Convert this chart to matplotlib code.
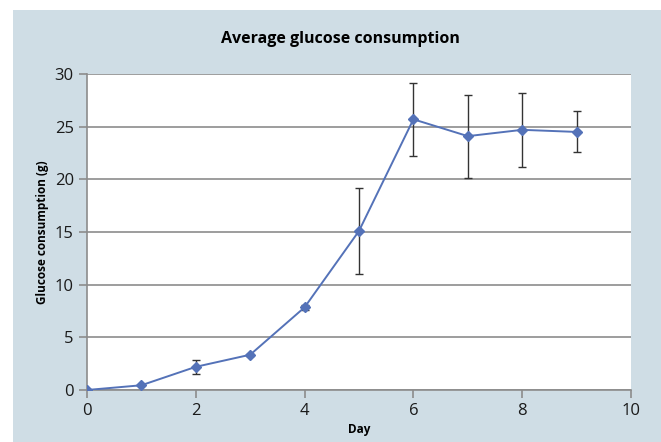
import matplotlib
matplotlib.use('Agg')
import matplotlib.pyplot as plt
from matplotlib.patches import Rectangle

# data
days = [0, 1, 2, 3, 4, 5, 6, 7, 8, 9]
glucose = [0.0, 0.45, 2.2, 3.35, 7.85, 15.1, 25.7, 24.1, 24.7, 24.5]
err = [0.0, 0.0, 0.65, 0.1, 0.25, 4.1, 3.45, 3.95, 3.5, 1.95]

plt.rcParams['font.family'] = ['Open Sans', 'DejaVu Sans']

fig = plt.figure(figsize=(6.61, 4.42), dpi=100)
fig.patch.set_facecolor('white')
fig.patches.append(Rectangle((13 / 661, 0), 1, 1 - 10 / 442, transform=fig.transFigure,
                             facecolor='#cfdde5', edgecolor='none', zorder=-1))

ax = fig.add_axes([87 / 661, 1 - 390 / 442, (631 - 87) / 661, (390 - 74) / 442])
ax.set_facecolor('white')

ax.errorbar(days, glucose, yerr=err, color='#5472b8', lw=1.4, marker='D', ms=5,
            ecolor='#333333', elinewidth=1, capsize=3, capthick=1, zorder=3)

ax.set_xlim(0, 10)
ax.set_ylim(0, 30)
ax.set_xticks(range(0, 11, 2))
ax.set_yticks(range(0, 31, 5))
ax.grid(axis='y', color='#8c8c8c', lw=1.2)
ax.set_axisbelow(True)
for s in ['top', 'right']:
    ax.spines[s].set_visible(False)
for s in ['left', 'bottom']:
    ax.spines[s].set_color('#8c8c8c')
    ax.spines[s].set_linewidth(1.2)
ax.tick_params(direction='out', length=6, color='#8c8c8c', width=1.2,
               labelsize=12, labelcolor='#1a1a1a')

ax.set_xlabel('Day', fontsize=8.5, fontweight='bold', labelpad=3)
ax.set_ylabel('Glucose consumption (g)', fontsize=8.5, fontweight='bold', labelpad=4)
fig.text(0.515, 0.912, 'Average glucose consumption', ha='center', va='center',
         fontsize=11.5, fontweight='bold')

fig.savefig('out.png', dpi=100)
